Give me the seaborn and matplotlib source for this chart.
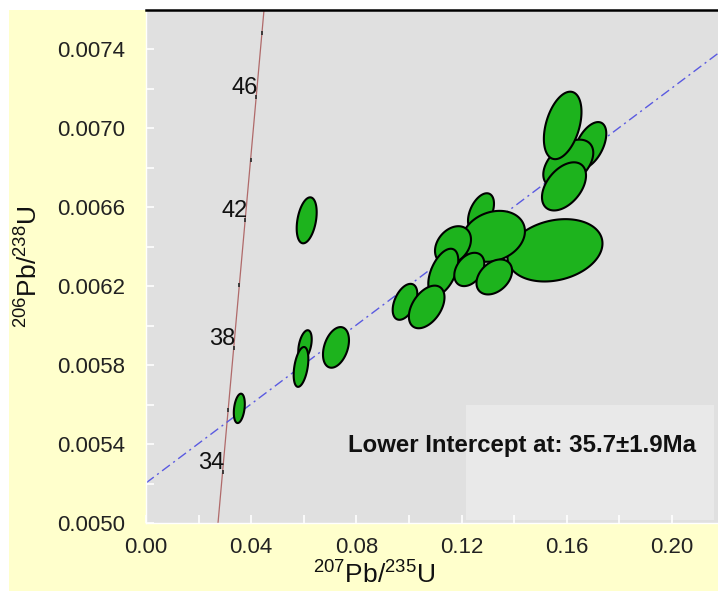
import numpy as np
import matplotlib
matplotlib.use("Agg")
import matplotlib.pyplot as plt
import seaborn as sns
from matplotlib.patches import Rectangle
from matplotlib.ticker import MultipleLocator, FormatStrFormatter

# ---------------- data ----------------
# error ellipses: centre (207Pb/235U, 206Pb/238U), half-extents and correlation
ell_x = [0.03548, 0.06110, 0.06046, 0.05894, 0.07224, 0.12738, 0.15551, 0.13205,
         0.11673, 0.11304, 0.12293, 0.13243, 0.09848, 0.10673, 0.16882, 0.16057,
         0.15844, 0.15894]
ell_y = [0.005581, 0.006534, 0.005901, 0.005791, 0.005890, 0.006575, 0.006382,
         0.006453, 0.006408, 0.006272, 0.006285, 0.006247, 0.006121, 0.006095,
         0.006914, 0.006821, 0.007015, 0.006706]
ell_sx = [0.00209, 0.00380, 0.00255, 0.00279, 0.00494, 0.00494, 0.01806, 0.01204,
          0.00684, 0.00570, 0.00570, 0.00677, 0.00468, 0.00677, 0.00620, 0.00950,
          0.00715, 0.00837]
ell_sy = [0.0000744, 0.0001165, 0.0000760, 0.0001010, 0.0001030, 0.0000962,
          0.0001580, 0.0001290, 0.0000962, 0.0001180, 0.0000844, 0.0000886,
          0.0000911, 0.0001080, 0.0001180, 0.0001220, 0.0001710, 0.0001220]
ell_rho = [0.3, 0.35, 0.4, 0.4, 0.35, 0.45, 0.22, 0.2, 0.3, 0.5, 0.35, 0.35,
           0.45, 0.45, 0.5, 0.45, 0.4, 0.45]

# concordia age marks
conc_age = [34, 36, 38, 40, 42, 44, 46, 48]
conc_x = [0.02912, 0.03122, 0.03335, 0.03548, 0.03771, 0.03975, 0.04190, 0.04407]
conc_y = [0.005258, 0.005572, 0.005886, 0.006205, 0.006534, 0.006838, 0.007157, 0.007481]
conc_labels = [34, 38, 42, 46]
conc_line_x = [0.02738, 0.04487]
conc_line_y = [0.00500, 0.00760]

# discordia line
disc_x = [0.0, 0.2175]
disc_y = [0.005203, 0.00738]

x_ticks = [0.00, 0.04, 0.08, 0.12, 0.16, 0.20]
y_ticks = [0.0050, 0.0054, 0.0058, 0.0062, 0.0066, 0.0070, 0.0074]
annotation = "Lower Intercept at: 35.7\u00b11.9Ma"

# ---------------- style ----------------
sns.set_theme(style="white")
plt.rcParams["font.family"] = ["Liberation Sans", "DejaVu Sans"]
plt.rcParams["mathtext.fontset"] = "custom"
plt.rcParams["mathtext.rm"] = "Liberation Sans"
plt.rcParams["mathtext.it"] = "Liberation Sans:italic"
plt.rcParams["mathtext.bf"] = "Liberation Sans:bold"

fig = plt.figure(figsize=(7.18, 5.91), dpi=100, facecolor="white")
fig.patches.append(Rectangle((9 / 718, 0), 1 - 9 / 718, 581 / 591,
                             transform=fig.transFigure, facecolor="#FFFFCC",
                             edgecolor="none", zorder=-10))
ax = fig.add_axes([146 / 718, 68 / 591, 572 / 718, 513 / 591])
ax.set_facecolor("#E0E0E0")

# light box behind the annotation
ax.add_patch(Rectangle((0.559, 0.006), 0.434, 0.224, transform=ax.transAxes,
                       facecolor="#E9E9E9", edgecolor="none", zorder=0.5))

# concordia
sns.lineplot(x=conc_line_x, y=conc_line_y, ax=ax, color="#B06A6A", lw=0.9,
             sort=False, estimator=None, zorder=1)
ax.scatter(conc_x, conc_y, marker="|", s=12, color="#333333", linewidths=1.3, zorder=2)
for a, x, y in zip(conc_age, conc_x, conc_y):
    if a in conc_labels:
        ax.annotate(str(a), (x, y), xytext=(1.5, 2.5), textcoords="offset points",
                    ha="right", va="baseline", fontsize=17, color="#111111")

# discordia
sns.lineplot(x=disc_x, y=disc_y, ax=ax, color="#5A5AE0", lw=1.0, sort=False,
             estimator=None, zorder=1)
ax.lines[-1].set_dashes((7, 3, 1.5, 3))

# ellipses
t = np.linspace(0, 2 * np.pi, 200)
for cx, cy, sx, sy, r in zip(ell_x, ell_y, ell_sx, ell_sy, ell_rho):
    xs = cx + sx * np.cos(t)
    ys = cy + sy * (r * np.cos(t) + np.sqrt(1 - r * r) * np.sin(t))
    ax.fill(xs, ys, facecolor="#1DB31D", edgecolor="black", lw=1.5, zorder=3)

ax.text(0.6565, 0.152, annotation, transform=ax.transAxes, ha="center",
        va="center", fontsize=17.3, fontweight="bold", color="#111111", zorder=4)

ax.set_xlim(0, 0.2175)
ax.set_ylim(0.0050, 0.0076)
ax.set_xticks(x_ticks)
ax.set_yticks(y_ticks)
ax.xaxis.set_minor_locator(MultipleLocator(0.02))
ax.yaxis.set_minor_locator(MultipleLocator(0.0002))
ax.xaxis.set_major_formatter(FormatStrFormatter("%.2f"))
ax.yaxis.set_major_formatter(FormatStrFormatter("%.4f"))
ax.tick_params(which="both", direction="in", color="white", length=6, width=1.2)
ax.tick_params(axis="x", which="major", labelsize=16, labelcolor="#222222", pad=10)
ax.tick_params(axis="y", which="major", labelsize=16, labelcolor="#222222", pad=15)
ax.tick_params(which="both", bottom=True, left=True, top=False, right=False)

for s in ["left", "bottom"]:
    ax.spines[s].set_color("white")
    ax.spines[s].set_linewidth(1.0)
ax.spines["right"].set_visible(False)
ax.spines["top"].set_color("black")
ax.spines["top"].set_linewidth(1.8)

ax.set_xlabel(r"$^{207}$Pb/$^{235}$U", fontsize=19, color="#111111")
ax.set_ylabel(r"$^{206}$Pb/$^{238}$U", fontsize=19, color="#111111")
ax.xaxis.set_label_coords(0.399, -0.075)
ax.yaxis.set_label_coords(-0.18, 0.5)

fig.savefig("out.png", dpi=100, facecolor=fig.get_facecolor())
